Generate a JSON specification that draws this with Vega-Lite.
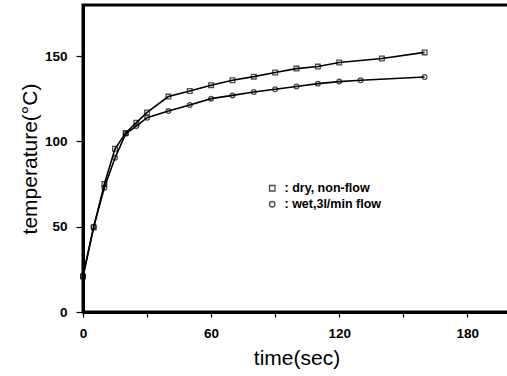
{
  "$schema": "https://vega.github.io/schema/vega-lite/v6.json",
  "autosize": "none",
  "width": 427,
  "height": 307,
  "padding": {"left": 83, "top": 5, "right": 0, "bottom": 64},
  "background": "white",
  "config": {
    "view": {"stroke": "#000000", "strokeWidth": 3, "strokeOpacity": 1},
    "font": "Liberation Sans",
    "axis": {"grid": false, "domain": true, "domainColor": "black", "domainWidth": 3, "labelFlush": false, "tickColor": "black", "tickWidth": 1.2, "labelColor": "black", "titleColor": "black", "labelFont": "Liberation Sans", "titleFont": "Liberation Sans", "labelFontWeight": "bold", "labelFontSize": 13.5, "titleFontSize": 21, "titleFontWeight": "normal"}
  },
  "data": {"values": [
    {"t": 0, "T": 20.8, "s": "dry, non-flow"},
    {"t": 5, "T": 49.6, "s": "dry, non-flow"},
    {"t": 10, "T": 75, "s": "dry, non-flow"},
    {"t": 15, "T": 95.7, "s": "dry, non-flow"},
    {"t": 20, "T": 105, "s": "dry, non-flow"},
    {"t": 25, "T": 111, "s": "dry, non-flow"},
    {"t": 30, "T": 117, "s": "dry, non-flow"},
    {"t": 40, "T": 126.3, "s": "dry, non-flow"},
    {"t": 50, "T": 129.6, "s": "dry, non-flow"},
    {"t": 60, "T": 133, "s": "dry, non-flow"},
    {"t": 70, "T": 135.9, "s": "dry, non-flow"},
    {"t": 80, "T": 138, "s": "dry, non-flow"},
    {"t": 90, "T": 140.4, "s": "dry, non-flow"},
    {"t": 100, "T": 142.7, "s": "dry, non-flow"},
    {"t": 110, "T": 143.9, "s": "dry, non-flow"},
    {"t": 120, "T": 146.3, "s": "dry, non-flow"},
    {"t": 140, "T": 148.6, "s": "dry, non-flow"},
    {"t": 160, "T": 152.2, "s": "dry, non-flow"},
    {"t": 0, "T": 21, "s": "wet,3l/min flow"},
    {"t": 5, "T": 50, "s": "wet,3l/min flow"},
    {"t": 10, "T": 72.8, "s": "wet,3l/min flow"},
    {"t": 15, "T": 90.4, "s": "wet,3l/min flow"},
    {"t": 20, "T": 104.5, "s": "wet,3l/min flow"},
    {"t": 25, "T": 109, "s": "wet,3l/min flow"},
    {"t": 30, "T": 113.9, "s": "wet,3l/min flow"},
    {"t": 40, "T": 117.8, "s": "wet,3l/min flow"},
    {"t": 50, "T": 121.4, "s": "wet,3l/min flow"},
    {"t": 60, "T": 125.1, "s": "wet,3l/min flow"},
    {"t": 70, "T": 127, "s": "wet,3l/min flow"},
    {"t": 80, "T": 129, "s": "wet,3l/min flow"},
    {"t": 90, "T": 130.6, "s": "wet,3l/min flow"},
    {"t": 100, "T": 132.2, "s": "wet,3l/min flow"},
    {"t": 110, "T": 133.9, "s": "wet,3l/min flow"},
    {"t": 120, "T": 135.1, "s": "wet,3l/min flow"},
    {"t": 130, "T": 135.9, "s": "wet,3l/min flow"},
    {"t": 160, "T": 137.8, "s": "wet,3l/min flow"}
  ]},
  "encoding": {
    "x": {"field": "t", "type": "quantitative", "scale": {"domain": [0, 200], "nice": false},
      "axis": {"title": "time(sec)", "values": [0, 30, 60, 90, 120, 150, 180], "labelExpr": "datum.value % 60 == 0 ? datum.label : ''", "tickSize": 5, "labelPadding": 9, "titlePadding": 8}},
    "y": {"field": "T", "type": "quantitative", "scale": {"domain": [0, 180], "nice": false},
      "axis": {"title": "temperature(°C)", "values": [0, 50, 100, 150], "tickSize": 7, "labelPadding": 9, "titlePadding": 4}}
  },
  "layer": [
    {"mark": {"type": "line", "color": "black", "strokeWidth": 1.6},
     "encoding": {"detail": {"field": "s", "type": "nominal"}}},
    {"mark": {"type": "point", "filled": false, "color": "black", "strokeWidth": 1.3, "size": 22},
     "encoding": {"shape": {"field": "s", "type": "nominal", "scale": {"range": ["square", "circle"]},
       "legend": {"title": null, "orient": "none", "legendX": 183, "legendY": 177, "padding": 0, "rowPadding": 3, "symbolSize": 30, "symbolStrokeWidth": 1.3, "symbolStrokeColor": "black", "labelFontSize": 12.5, "labelFontWeight": "bold", "labelOffset": 6, "labelExpr": "': ' + datum.label", "labelColor": "black"}}}}
  ]
}
